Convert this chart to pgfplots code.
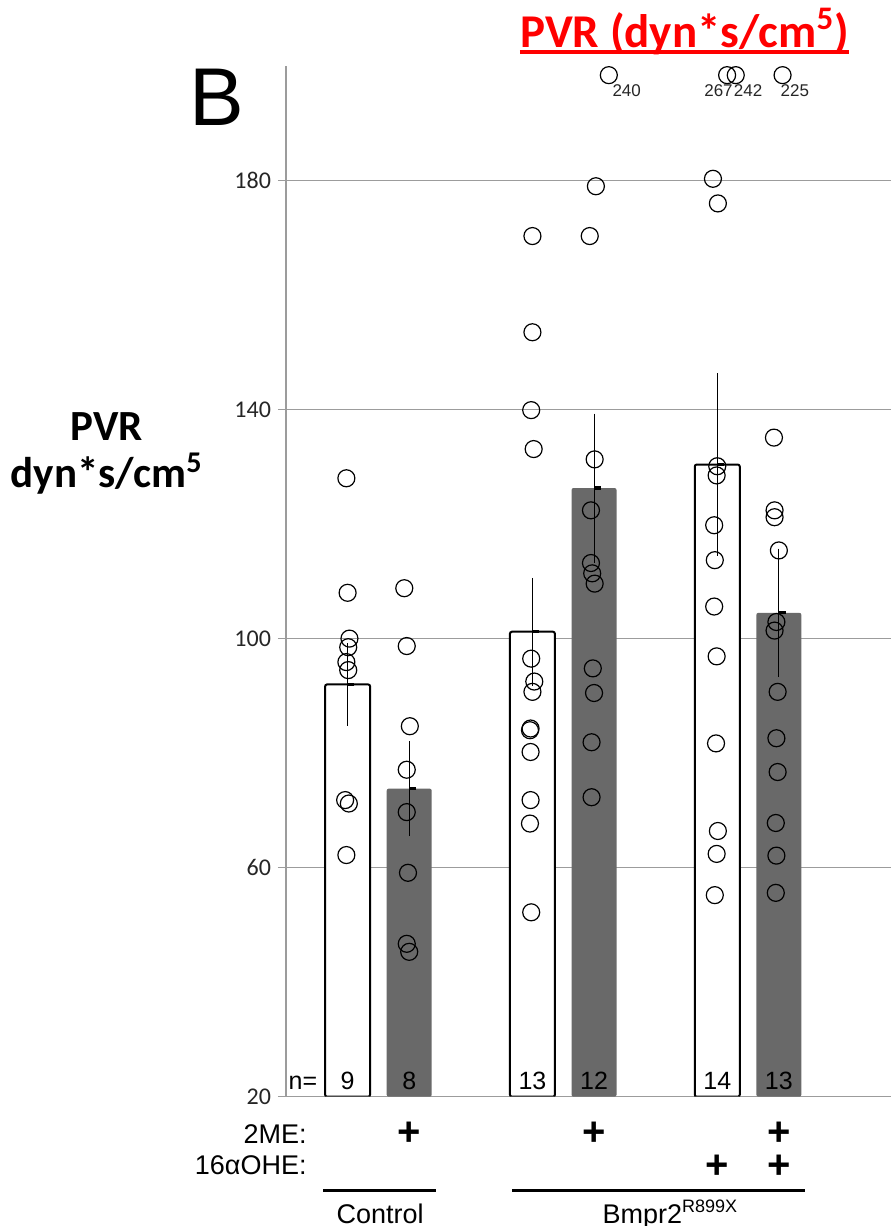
\documentclass[border=0pt]{standalone}
\usepackage{fontspec}
\setmainfont{Liberation Sans}
\newfontfamily\calibri{Carlito}
\usepackage{pgfplots}
\usepackage{pgfplotstable}
\pgfplotsset{compat=1.18}
\usetikzlibrary{calc}
\definecolor{gridgray}{HTML}{9C9C9C}
\definecolor{bargrey}{HTML}{696969}

% group means and SEM (x: 1,2 control; 4,5 and 7,8 Bmpr2)
\pgfplotstableread{
x   y     err
1   92.0  6.6
4   101.2 8.8
7   130.4 15.3
}\whitebars
\pgfplotstableread{
x   y     err
2   73.8  7.7
5   126.3 12.4
8   104.5 10.6
}\greybars

% individual animals (off-scale values drawn at the top edge)
\pgfplotstableread{
x     y
0.98  128.0
1.00  108.0
1.03  100.0
1.01  98.5
0.98  95.9
1.01  94.5
0.96  71.8
1.02  71.2
0.98  62.2
1.92  108.8
1.96  98.7
2.01  84.7
1.96  77.1
1.96  69.7
1.98  59.1
1.96  46.7
2.00  45.3
4.00  170.3
4.00  153.5
3.98  139.9
4.02  133.1
3.98  96.5
4.03  92.5
4.00  90.7
3.96  84.0
3.97  84.3
3.97  80.2
3.97  71.8
3.96  67.7
3.98  52.2
5.24  198.4
5.03  179.0
4.93  170.3
5.01  131.3
4.95  122.4
4.95  113.2
4.97  111.4
5.01  109.6
4.98  94.8
5.00  90.5
4.96  81.9
4.96  72.3
7.16  198.4
7.30  198.4
6.93  180.3
7.01  176.0
7.00  130.1
6.99  128.5
6.95  119.8
6.96  113.7
6.95  105.6
6.99  96.9
6.98  81.7
7.01  66.4
6.99  62.4
6.96  55.2
8.06  198.4
7.92  135.1
7.93  122.4
7.93  121.2
8.00  115.4
7.96  102.9
7.93  101.4
7.98  90.7
7.96  82.6
7.98  76.7
7.95  67.8
7.96  62.1
7.95  55.6
}\points

\begin{document}
\begin{tikzpicture}
\begin{axis}[
  name=ax,
  scale only axis,
  width=302.5pt, height=515.35pt,
  xmin=0, xmax=9.82,
  ymin=20, ymax=200,
  axis lines=left,
  axis line style={draw=gridgray, line width=0.65pt, -},
  xtick=\empty,
  ytick={20,60,100,140,180},
  ymajorgrids,
  grid style={gridgray, line width=0.65pt},
  tick align=outside,
  major tick length=4pt,
  tick style={gridgray, line width=0.65pt},
  yticklabel style={font=\calibri\fontsize{12}{14}\selectfont, text=black!85},
  /pgf/number format/assume math mode=true,
  clip mode=individual,
]
  \addplot[ybar, bar width=0.73, bar shift=0pt, fill=white, draw=black,
    line width=1pt, rounded corners=1pt,
    error bars/.cd, y dir=both, y explicit,
    error bar style={black, line width=0.5pt, rounded corners=0pt},
    error mark options={black, line width=0.5pt, mark size=1.75pt}]
    table[x=x, y=y, y error=err] {\whitebars};
  \addplot[ybar, bar width=0.73, bar shift=0pt, fill=bargrey, draw=none,
    rounded corners=1pt,
    error bars/.cd, y dir=both, y explicit,
    error bar style={black, line width=0.5pt, rounded corners=0pt},
    error mark options={black, line width=0.5pt, mark size=1.75pt}]
    table[x=x, y=y, y error=err] {\greybars};

  % short mean marks at the bar tops
  \addplot[only marks, mark=-, mark size=1.8pt,
    mark options={black, line width=1.6pt, xshift=1.6pt}]
    table[x=x, y=y] {\whitebars};
  \addplot[only marks, mark=-, mark size=1.8pt,
    mark options={black, line width=1.6pt, xshift=1.6pt}]
    table[x=x, y=y] {\greybars};

  \addplot[only marks, mark=o, mark size=4.25pt,
    mark options={black, line width=0.6pt}]
    table[x=x, y=y] {\points};

  % off-scale values
  \begin{scope}[font=\fontsize{8.5}{10}\selectfont, text=black!85, inner sep=0pt]
    \node at (axis cs:5.53,195.75) {240};
    \node at (axis cs:7.02,195.75) {267};
    \node at (axis cs:7.50,195.75) {242};
    \node at (axis cs:8.26,195.75) {225};
  \end{scope}

  % group sizes
  \begin{scope}[font=\fontsize{12.5}{14}\selectfont, inner sep=0pt, anchor=base]
    \node at (axis cs:0.276,21.2) {n=};
    \node at (axis cs:1,21.2) {9};
    \node at (axis cs:2,21.2) {8};
    \node at (axis cs:4,21.2) {13};
    \node at (axis cs:5,21.2) {12};
    \node at (axis cs:7,21.2) {14};
    \node at (axis cs:8,21.2) {13};
  \end{scope}

  % treatment rows
  \begin{scope}[font=\fontsize{13.5}{16}\selectfont, inner sep=0pt]
    \node[anchor=base east] at (axis cs:0.341,11.86) {2ME:};
    \node[anchor=base east] at (axis cs:0.341,6.33) {16αOHE:};
    \node[anchor=base] at (axis cs:1.528,-2.06) {Control};
    \node[anchor=base] at (axis cs:6.24,-2.06) {Bmpr2\textsuperscript{\fontsize{9}{10}\selectfont R899X}};
  \end{scope}
  \begin{scope}[font=\bfseries\fontsize{20}{22}\selectfont, inner sep=0pt,
      anchor=base, text height=0.6em, text depth=0pt]
    \node at (axis cs:2,11.46) {+};
    \node at (axis cs:5,11.46) {+};
    \node at (axis cs:8,11.46) {+};
    \node at (axis cs:7,5.70) {+};
    \node at (axis cs:8,5.70) {+};
  \end{scope}
  \draw[black, line width=1.5pt] (axis cs:0.602,3.58) -- (axis cs:2.439,3.58);
  \draw[black, line width=1.5pt] (axis cs:3.675,3.58) -- (axis cs:8.423,3.58);

  % panel letter, side label and red heading
  \node[font=\fontsize{41}{43}\selectfont, inner sep=0pt] at (axis cs:-1.12,194.5) {B};
  \node[font=\calibri\bfseries\fontsize{21.5}{23.5}\selectfont, align=center, inner sep=0pt]
    at (axis cs:-2.91,132.3) {PVR\\dyn*s/cm\textsuperscript{5}};
  \node[font=\calibri\bfseries\fontsize{23.5}{26}\selectfont, text=red, inner sep=0pt, anchor=base]
    (ttl) at (axis cs:6.47,203.3) {PVR (dyn*s/cm\textsuperscript{5})};
  \coordinate (ul) at (axis cs:0,202.4);
  \draw[red, line width=2pt] (ttl.west |- ul) -- (ttl.east |- ul);
\end{axis}
\pgfresetboundingbox
\path[use as bounding box] ($(ax.south west)+(-143pt,-64.65pt)$)
  rectangle ($(ax.south west)+(302.5pt,548.35pt)$);
\end{tikzpicture}
\end{document}
